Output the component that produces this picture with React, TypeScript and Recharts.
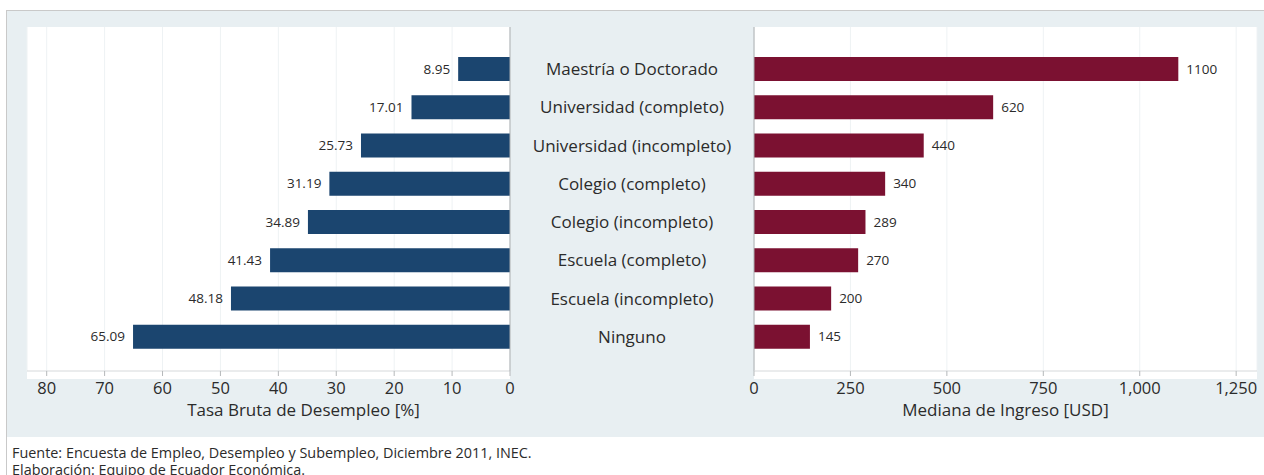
import React from 'react';
import { BarChart, Bar, XAxis, YAxis, CartesianGrid, LabelList, ReferenceLine } from 'recharts';

const categories = [
  'Maestría o Doctorado',
  'Universidad (completo)',
  'Universidad (incompleto)',
  'Colegio (completo)',
  'Colegio (incompleto)',
  'Escuela (completo)',
  'Escuela (incompleto)',
  'Ninguno',
];
const desempleo = [8.95, 17.01, 25.73, 31.19, 34.89, 41.43, 48.18, 65.09];
const ingreso = [1100, 620, 440, 340, 289, 270, 200, 145];
const leftTicks = [0, 10, 20, 30, 40, 50, 60, 70, 80];
const rightMajorTicks = [0, 250, 500, 750, 1000, 1250];
const rightMinorTicks = [62.5, 125, 187.5, 312.5, 375, 437.5, 562.5, 625, 687.5, 812.5, 875, 937.5, 1062.5, 1125, 1187.5];

const data = categories.map((c, i) => ({ cat: c, desempleo: desempleo[i], ingreso: ingreso[i] }));

const FONT = '"Open Sans", sans-serif';
const TXT = '#2b2b2b';
const BLUE = '#1b456f';
const RED = '#7b1131';
const PANEL = '#e8eff2';
const GRID = '#eef2f4';

const fmtLeft = (v: number) => String(v);
const fmtRight = (v: number) => v.toLocaleString('en-US');

const LeftValueLabel = (props: any) => {
  const { x, y, width, height, value } = props;
  const left = Math.min(x, x + width);
  return (
    <text x={left - 8} y={y + height / 2} dy="0.35em" textAnchor="end" fontSize={13.5} fill={TXT} fontFamily={FONT}>
      {value.toFixed(2)}
    </text>
  );
};

const RightValueLabel = (props: any) => {
  const { x, y, width, height, value } = props;
  const right = Math.max(x, x + width);
  return (
    <text x={right + 8} y={y + height / 2} dy="0.35em" textAnchor="start" fontSize={13.5} fill={TXT} fontFamily={FONT}>
      {value}
    </text>
  );
};

const CatTick = (props: any) => {
  const { x, y, payload } = props;
  return (
    <text x={x + 122} y={y} dy="0.35em" textAnchor="middle" fontSize={17} fill={TXT} fontFamily={FONT}>
      {payload.value}
    </text>
  );
};

const tickStyle = { fontSize: 16.5, fill: TXT, fontFamily: FONT };

export default function App() {
  return (
    <div style={{ position: 'absolute', left: 0, top: 0, width: 1264, height: 475, overflow: 'hidden', background: '#ffffff', fontFamily: FONT }}>
      <div style={{ position: 'absolute', left: 6, top: 10, width: 1300, height: 600, border: '1px solid #c9c9c9', boxSizing: 'border-box' }} />
      <div style={{ position: 'absolute', left: 7, top: 11, width: 1264, height: 426, background: PANEL }} />
      <div style={{ position: 'absolute', left: 27, top: 27, width: 483, height: 352, background: '#ffffff' }} />
      <div style={{ position: 'absolute', left: 754, top: 27, width: 503, height: 352, background: '#ffffff' }} />

      <div style={{ position: 'absolute', left: 0, top: 0 }}>
        <BarChart width={754} height={430} data={data} layout="vertical" margin={{ top: 27, right: 0, bottom: 0, left: 27 }}>
          <CartesianGrid horizontal={false} vertical={true} stroke={GRID} />
          <XAxis
            type="number"
            dataKey="desempleo"
            domain={[0, 83.4]}
            reversed
            ticks={leftTicks}
            tickFormatter={fmtLeft}
            interval={0}
            height={59}
            tickSize={5}
            tickMargin={6}
            axisLine={{ stroke: '#d6d9db' }}
            tickLine={{ stroke: '#b5b8ba' }}
            tick={tickStyle}
            label={{ value: 'Tasa Bruta de Desempleo [%]', position: 'insideBottom', offset: 14, dx: 35, fontSize: 17, fill: TXT, fontFamily: FONT }}
          />
          <YAxis
            type="category"
            dataKey="cat"
            orientation="right"
            width={244}
            padding={{ top: 23, bottom: 15 }}
            tickLine={false}
            tickSize={0}
            tickMargin={0}
            axisLine={{ stroke: '#a9adb0' }}
            tick={<CatTick />}
            interval={0}
          />
          <Bar dataKey="desempleo" fill={BLUE} barSize={24} isAnimationActive={false}>
            <LabelList dataKey="desempleo" content={<LeftValueLabel />} />
          </Bar>
        </BarChart>
      </div>

      <div style={{ position: 'absolute', left: 724, top: 0 }}>
        <BarChart width={540} height={430} data={data} layout="vertical" margin={{ top: 27, right: 7, bottom: 0, left: 30 }}>
          <CartesianGrid horizontal={false} vertical={true} stroke={GRID} />
          <XAxis
            xAxisId="minor"
            type="number"
            domain={[0, 1304]}
            ticks={rightMinorTicks}
            interval={0}
            height={0}
            tickSize={5}
            axisLine={false}
            tickLine={{ stroke: '#b5b8ba' }}
            tick={false}
          />
          <XAxis
            type="number"
            dataKey="ingreso"
            domain={[0, 1304]}
            ticks={rightMajorTicks}
            tickFormatter={fmtRight}
            interval={0}
            height={59}
            tickSize={5}
            tickMargin={6}
            axisLine={{ stroke: '#d6d9db' }}
            tickLine={{ stroke: '#b5b8ba' }}
            tick={tickStyle}
            label={{ value: 'Mediana de Ingreso [USD]', position: 'insideBottom', offset: 14, fontSize: 17, fill: TXT, fontFamily: FONT }}
          />
          <YAxis type="category" dataKey="cat" hide padding={{ top: 23, bottom: 15 }} />
          <ReferenceLine x={0} stroke="#a9adb0" />
          <Bar dataKey="ingreso" fill={RED} barSize={24} isAnimationActive={false}>
            <LabelList dataKey="ingreso" content={<RightValueLabel />} />
          </Bar>
        </BarChart>
      </div>

      <div style={{ position: 'absolute', left: 12, top: 444, fontSize: 14.4, lineHeight: '17px', color: TXT, fontFamily: FONT, whiteSpace: 'nowrap' }}>
        <div>Fuente: Encuesta de Empleo, Desempleo y Subempleo, Diciembre 2011, INEC.</div>
        <div>Elaboración: Equipo de Ecuador Económica.</div>
      </div>
    </div>
  );
}
